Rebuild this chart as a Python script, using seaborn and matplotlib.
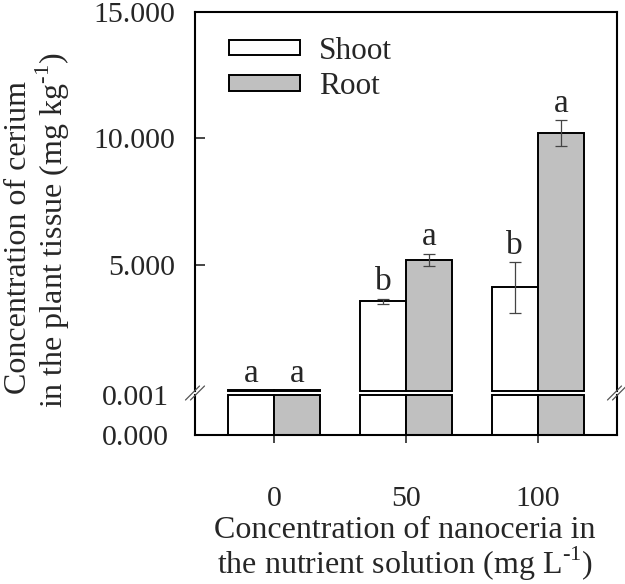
import numpy as np
import pandas as pd
import matplotlib
matplotlib.use("Agg")
import matplotlib.pyplot as plt
from matplotlib.lines import Line2D
import seaborn as sns

# ---- data ----
groups = ["0", "50", "100"]
tissues = ["Shoot", "Root"]
shoot = [0.04, 3.55, 4.10]
root = [0.04, 5.20, 10.20]
shoot_err = [0.0, 0.10, 1.00]
root_err = [0.0, 0.24, 0.51]
shoot_letters = ["a", "b", "b"]
root_letters = ["a", "a", "a"]
lower_limit = 0.001  # top of lower (broken) segment
upper_ticks = [5, 10, 15]
upper_ticklabels = ["5.000", "10.000", "15.000"]
lower_ticks = [0.0, 0.001]
lower_ticklabels = ["0.000", "0.001"]

df = pd.DataFrame({
    "conc": groups * 2,
    "tissue": ["Shoot"] * 3 + ["Root"] * 3,
    "value": shoot + root,
})
df["lower"] = np.minimum(df["value"], lower_limit)

sns.set_style("ticks")
plt.rcParams["font.family"] = ["Liberation Serif", "DejaVu Serif"]
plt.rcParams["mathtext.fontset"] = "custom"
plt.rcParams["mathtext.rm"] = "Liberation Serif"

FS_TICK = 21.5
FS_LEG = 22.5
FS_LAB = 23
FS_LET = 24
palette = ["white", "#c0c0c0"]

fig = plt.figure(figsize=(6.25, 5.84), dpi=100)
L, W = 195 / 625, (617 - 195) / 625
ax_top = fig.add_axes([L, 1 - 391 / 584, W, (391 - 12) / 584])
ax_bot = fig.add_axes([L, 1 - 435 / 584, W, (435 - 395) / 584])

common = dict(x="conc", hue="tissue", order=groups, hue_order=tissues,
              palette=palette, edgecolor="black", linewidth=1.4, width=0.7,
              errorbar=None, saturation=1)
sns.barplot(data=df, y="value", ax=ax_top, legend=True, **common)
sns.barplot(data=df, y="lower", ax=ax_bot, legend=False, **common)

for ax in (ax_top, ax_bot):
    for p in ax.patches:
        p.set_clip_on(False)
    ax.set_xlim(-0.6, 2.6)
    ax.set_xlabel("")
    ax.set_ylabel("")
    for s in ax.spines.values():
        s.set_linewidth(1.5)
        s.set_color("black")

ax_top.set_ylim(0, 15)
ax_bot.set_ylim(0, lower_limit)

# error bars + letters
errs = [shoot_err, root_err]
letters = [shoot_letters, root_letters]
bar_conts = list(ax_top.containers)[:2]
for k, cont in enumerate(bar_conts):
    for i, bar in enumerate(cont.patches):
        xc = bar.get_x() + bar.get_width() / 2
        h = bar.get_height()
        e = errs[k][i]
        if e > 0:
            ax_top.errorbar([xc], [h], yerr=[e], fmt="none", ecolor="#444444",
                            elinewidth=0.9, capsize=4, capthick=0.9)
        ax_top.annotate(letters[k][i], (xc, h + e), xytext=(0, 1),
                        textcoords="offset points", ha="center", va="bottom",
                        fontsize=FS_LET)

# spines
ax_top.spines["bottom"].set_visible(False)
ax_bot.spines["top"].set_visible(False)

# ticks
ax_top.set_xticks([])
ax_top.set_yticks(upper_ticks)
ax_top.set_yticklabels(upper_ticklabels, fontsize=FS_TICK)
ax_top.tick_params(axis="y", direction="in", length=7, width=1.2, pad=14)
ax_top.tick_params(axis="x", bottom=False)

ax_bot.set_yticks(lower_ticks)
ax_bot.set_yticklabels(lower_ticklabels, fontsize=FS_TICK)
ax_bot.tick_params(axis="y", length=0, pad=19)
ax_bot.set_xticks(range(len(groups)))
ax_bot.set_xticklabels(groups, fontsize=FS_TICK)
ax_bot.tick_params(axis="x", direction="out", length=6, width=1.2, pad=31)

# legend
handles, labels = ax_top.get_legend_handles_labels()
ax_top.legend(handles, labels, loc="upper left", bbox_to_anchor=(0.05, 0.968),
              frameon=False, fontsize=FS_LEG, handlelength=2.3, handleheight=0.4,
              handletextpad=0.6, labelspacing=0.2, borderaxespad=0)

# break marks
def brk(xpix, ypix):
    for dx in (-2.5, 2.5):
        x0, y0 = xpix - 7 + dx, ypix + 7
        x1, y1 = xpix + 7 + dx, ypix - 7
        fig.add_artist(Line2D([x0 / 625, x1 / 625], [1 - y0 / 584, 1 - y1 / 584],
                              transform=fig.transFigure, color="#555555", lw=0.9))

brk(195, 393)
brk(617, 393)

# axis labels
HY = "\u2010"
fig.text(19 / 625, 1 - 237 / 584, "Concentration of cerium", rotation=90,
         ha="center", va="center", fontsize=FS_LAB)
fig.text(53 / 625, 1 - 230 / 584,
         r"in the plant tissue (mg kg$^{\mathregular{" + HY + r"1}}$)",
         rotation=90, ha="center", va="center", fontsize=FS_LAB)
fig.text(405 / 625, 1 - 530 / 584, "Concentration of nanoceria in",
         ha="center", va="center", fontsize=FS_LAB)
fig.text(405 / 625, 1 - 564 / 584,
         r"the nutrient solution (mg L$^{\mathregular{" + HY + r"1}}$)",
         ha="center", va="center", fontsize=FS_LAB)

fig.savefig("out.png", dpi=100)
